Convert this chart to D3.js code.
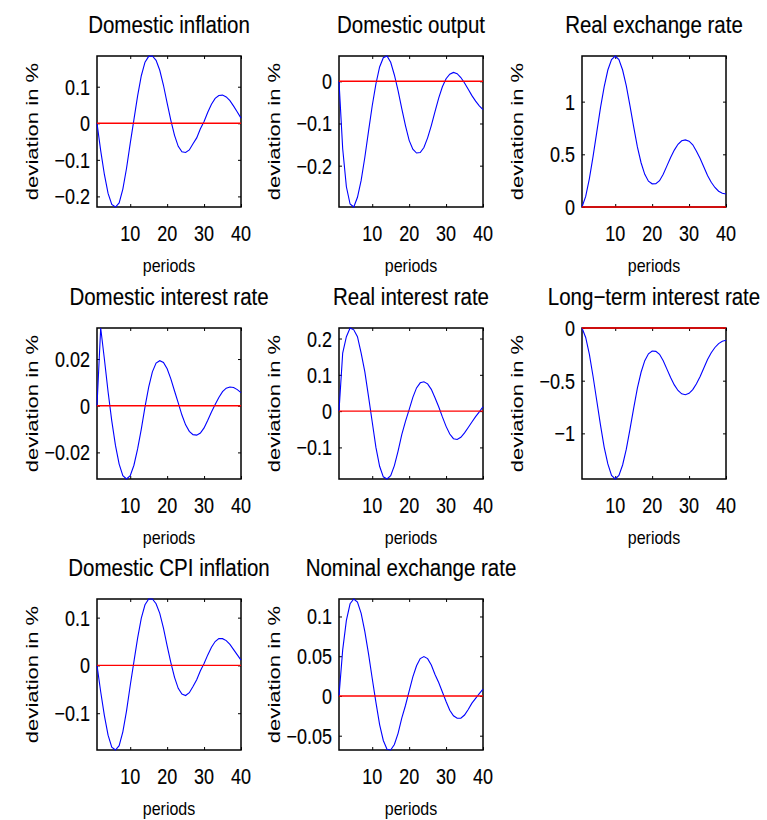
<!DOCTYPE html>
<html>
<head>
<meta charset="utf-8">
<script src="https://cdn.jsdelivr.net/npm/d3@7"></script>
<style>
  body { margin: 0; background: #fff; }
  svg { display: block; }
  text { font-family: "Liberation Sans", Arial, Helvetica, sans-serif; fill: #000; }
  text.big { stroke: #000; stroke-width: 0.12px; }
</style>
</head>
<body>
<svg id="chart" width="767" height="820"></svg>
<script>
// ---------------- data ----------------
const periods = d3.range(1, 41);
const xTicks = [10, 20, 30, 40];

const titles = [
  "Domestic inflation", "Domestic output", "Real exchange rate",
  "Domestic interest rate", "Real interest rate", "Long\u2212term interest rate",
  "Domestic CPI inflation", "Nominal exchange rate"
];

const domesticInflation = [0, -0.075, -0.140, -0.192, -0.222, -0.229, -0.218, -0.180, -0.123, -0.055,
  0.010, 0.075, 0.130, 0.167, 0.183, 0.184, 0.172, 0.145, 0.104, 0.055,
  0.008, -0.033, -0.063, -0.078, -0.080, -0.073, -0.056, -0.040, -0.015, 0.005,
  0.030, 0.052, 0.068, 0.076, 0.077, 0.072, 0.062, 0.047, 0.031, 0.014];

const domesticOutput = [0, -0.160, -0.250, -0.291, -0.298, -0.275, -0.235, -0.180, -0.118, -0.058,
  -0.006, 0.034, 0.056, 0.060, 0.045, 0.015, -0.022, -0.065, -0.105, -0.140,
  -0.161, -0.170, -0.169, -0.157, -0.134, -0.105, -0.072, -0.040, -0.013, 0.006,
  0.017, 0.021, 0.018, 0.009, -0.004, -0.019, -0.034, -0.047, -0.058, -0.067];

const realExchangeRate = [0, 0.10, 0.27, 0.48, 0.71, 0.94, 1.14, 1.30, 1.40, 1.433,
  1.40, 1.30, 1.15, 0.96, 0.76, 0.57, 0.42, 0.31, 0.245, 0.22,
  0.222, 0.25, 0.31, 0.39, 0.47, 0.54, 0.595, 0.628, 0.637, 0.625,
  0.59, 0.53, 0.46, 0.38, 0.30, 0.235, 0.185, 0.15, 0.13, 0.124];

const domesticInterestRate = [0, 0.0333, 0.0200, 0.0060, -0.0065, -0.0170, -0.0250, -0.0300, -0.0314, -0.0300,
  -0.0255, -0.0185, -0.0100, -0.0005, 0.0080, 0.0145, 0.0183, 0.0193, 0.0185, 0.0158,
  0.0115, 0.0063, 0.0012, -0.0040, -0.0082, -0.0110, -0.0124, -0.0126, -0.0117, -0.0095,
  -0.0062, -0.0027, 0.0005, 0.0035, 0.0060, 0.0075, 0.0080, 0.0078, 0.0069, 0.0056];

const realInterestRate = [0, 0.160, 0.205, 0.229, 0.224, 0.205, 0.160, 0.108, 0.040, -0.030,
  -0.100, -0.152, -0.181, -0.187, -0.178, -0.150, -0.110, -0.065, -0.028, 0.004,
  0.038, 0.064, 0.078, 0.081, 0.075, 0.060, 0.037, 0.012, -0.016, -0.042,
  -0.063, -0.076, -0.078, -0.072, -0.060, -0.045, -0.030, -0.015, -0.002, 0.012];

const longTermInterestRate = [0, -0.09, -0.25, -0.46, -0.69, -0.92, -1.13, -1.29, -1.40, -1.433,
  -1.40, -1.30, -1.15, -0.96, -0.76, -0.57, -0.42, -0.31, -0.245, -0.218,
  -0.222, -0.25, -0.31, -0.39, -0.47, -0.54, -0.593, -0.625, -0.633, -0.62,
  -0.585, -0.53, -0.46, -0.38, -0.30, -0.235, -0.185, -0.148, -0.125, -0.116];

const domesticCPIInflation = [0, -0.055, -0.105, -0.146, -0.171, -0.177, -0.168, -0.139, -0.095, -0.042,
  0.008, 0.057, 0.099, 0.127, 0.139, 0.139, 0.129, 0.109, 0.078, 0.041,
  0.006, -0.025, -0.048, -0.060, -0.063, -0.057, -0.044, -0.030, -0.011, 0.004,
  0.022, 0.038, 0.050, 0.056, 0.056, 0.052, 0.044, 0.033, 0.022, 0.011];

const nominalExchangeRate = [0, 0.058, 0.095, 0.116, 0.122, 0.118, 0.104, 0.081, 0.053, 0.022,
  -0.008, -0.036, -0.056, -0.067, -0.068, -0.061, -0.047, -0.028, -0.012, 0.006,
  0.024, 0.038, 0.047, 0.0496, 0.047, 0.039, 0.027, 0.017, 0.005, -0.007,
  -0.018, -0.025, -0.028, -0.028, -0.024, -0.017, -0.009, -0.003, 0.003, 0.0085];

const yTicksInflation = [-0.2, -0.1, 0, 0.1];
const yTicksOutput = [-0.2, -0.1, 0];
const yTicksRER = [0, 0.5, 1];
const yTicksInterest = [-0.02, 0, 0.02];
const yTicksRealRate = [-0.1, 0, 0.1, 0.2];
const yTicksLongRate = [-1, -0.5, 0];
const yTicksCPI = [-0.1, 0, 0.1];
const yTicksNER = [-0.05, 0, 0.05, 0.1];

const yLabel = "deviation in %";
const xLabel = "periods";

// ---------------- layout ----------------
const colLeft = [97, 339, 582];
const rowTop = [56, 328, 599];
const W = 144, H = 151;

const panels = [
  { title: titles[0], values: domesticInflation, ticks: yTicksInflation, col: 0, row: 0 },
  { title: titles[1], values: domesticOutput, ticks: yTicksOutput, col: 1, row: 0 },
  { title: titles[2], values: realExchangeRate, ticks: yTicksRER, col: 2, row: 0 },
  { title: titles[3], values: domesticInterestRate, ticks: yTicksInterest, col: 0, row: 1 },
  { title: titles[4], values: realInterestRate, ticks: yTicksRealRate, col: 1, row: 1 },
  { title: titles[5], values: longTermInterestRate, ticks: yTicksLongRate, col: 2, row: 1 },
  { title: titles[6], values: domesticCPIInflation, ticks: yTicksCPI, col: 0, row: 2 },
  { title: titles[7], values: nominalExchangeRate, ticks: yTicksNER, col: 1, row: 2 }
];

const fmt = v => String(v).replace("-", "\u2212");
const svg = d3.select("#chart");

panels.forEach(p => {
  const L = colLeft[p.col], T = rowTop[p.row];
  const x = d3.scaleLinear().domain([1, 40]).range([L, L + W]);
  const y = d3.scaleLinear().domain(d3.extent(p.values.concat([0]))).range([T + H, T]);
  const g = svg.append("g");

  // ticks (inside, all four sides)
  const tick = 3;
  const axes = [
    [d3.axisBottom(x).tickValues(xTicks), `translate(0,${T + H})`],
    [d3.axisTop(x).tickValues(xTicks), `translate(0,${T})`],
    [d3.axisLeft(y).tickValues(p.ticks), `translate(${L},0)`],
    [d3.axisRight(y).tickValues(p.ticks), `translate(${L + W},0)`]
  ];
  axes.forEach(([ax, tr]) => {
    const a = g.append("g").attr("transform", tr)
      .call(ax.tickSize(-tick).tickFormat(""));
    a.select(".domain").remove();
    a.selectAll("line").attr("stroke", "#000").attr("stroke-width", 1);
  });

  // box
  g.append("rect").attr("x", L).attr("y", T).attr("width", W).attr("height", H)
    .attr("fill", "none").attr("stroke", "#000").attr("stroke-width", 1.5);

  // response line
  const line = d3.line().x((d, i) => x(periods[i])).y(d => y(d));
  g.append("path").datum(p.values).attr("d", line)
    .attr("fill", "none").attr("stroke", "#0000ff").attr("stroke-width", 1.1);

  // zero line
  g.append("path").datum(periods.map(() => 0)).attr("d", line)
    .attr("fill", "none").attr("stroke", "#ff0000").attr("stroke-width", 1.4);

  // x tick labels
  xTicks.forEach(t => {
    g.append("text").attr("class", "big")
      .attr("transform", `translate(${x(t)},${T + H + 34}) scale(1,1.24)`)
      .attr("text-anchor", "middle").attr("font-size", 18).text(t);
  });
  // y tick labels
  p.ticks.forEach(v => {
    g.append("text").attr("class", "big")
      .attr("transform", `translate(${L - 7},${y(v) + 8}) scale(1,1.24)`)
      .attr("text-anchor", "end").attr("font-size", 18).text(fmt(v));
  });
  // title
  g.append("text").attr("class", "big")
    .attr("transform", `translate(${L + W / 2},${T - 23}) scale(1,1.17)`)
    .attr("text-anchor", "middle").attr("font-size", 20.5).text(p.title);
  // y label
  g.append("text").attr("transform", `translate(${L - 59},${T + H / 2}) scale(1,1.38) rotate(-90)`)
    .attr("text-anchor", "middle").attr("font-size", 16).text(yLabel);
  // x label
  g.append("text").attr("transform", `translate(${L + W / 2},${T + H + 65}) scale(1,1.2)`)
    .attr("text-anchor", "middle").attr("font-size", 16).text(xLabel);
});
</script>
</body>
</html>
